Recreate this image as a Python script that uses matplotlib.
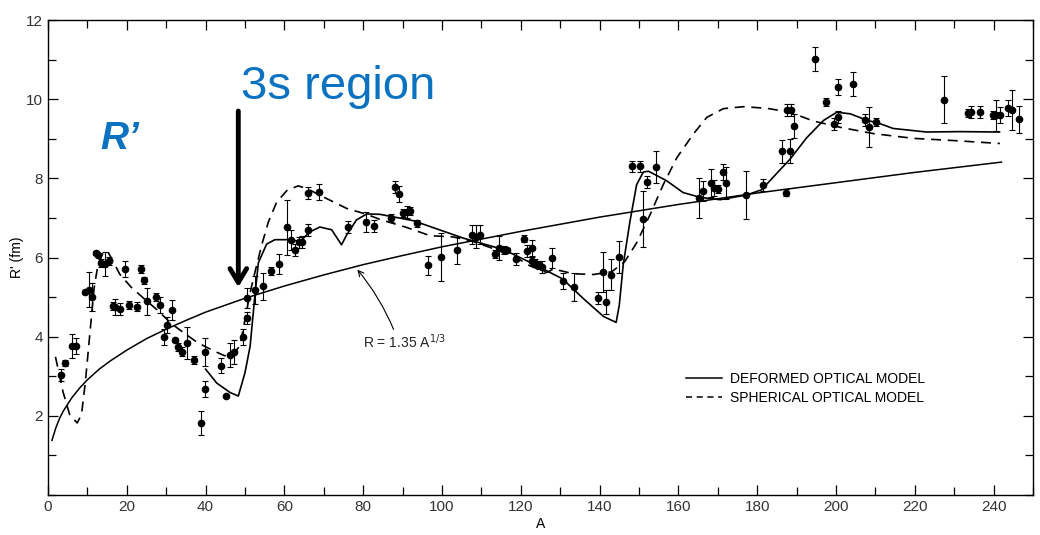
import numpy as np
import matplotlib
matplotlib.use("Agg")
import matplotlib.pyplot as plt
from matplotlib.ticker import MultipleLocator
from matplotlib.lines import Line2D

plt.rcParams['font.family'] = ['Liberation Sans', 'DejaVu Sans']

# measured points: mass number A, radius R' (fm), error
pt_A = [3.2, 4.4, 6.1, 7.1, 9.3, 10.3, 11.2, 12.3, 12.7, 13.5, 14.4, 15.5, 16.5, 17.1,
        18.4, 19.6, 20.5, 22.5, 23.5, 24.4, 25.2, 27.3, 28.4, 29.4, 30.3, 31.5, 32.2,
        33.0, 34.0, 35.2, 37.1, 38.9, 39.9, 39.9, 43.8, 45.3, 46.2, 47.1,
        49.4, 50.4, 50.4, 52.5, 54.5, 56.5, 58.7, 60.7, 61.8, 62.7, 63.7, 64.5,
        66.1, 68.9, 66.1, 76.1, 80.7, 82.8, 87.0, 88.1, 89.1, 90.2, 91.0, 92.0, 93.7,
        96.5, 99.7, 103.7, 107.7, 108.7, 109.6, 113.5, 114.5, 115.7, 116.4, 118.7,
        120.8, 121.7, 122.8, 122.8, 123.6, 124.5, 125.3, 127.8,
        130.6, 133.6, 139.7, 140.8, 141.5, 142.9, 144.9, 148.1, 150.3, 154.2, 152.1,
        150.9, 165.2, 166.2, 168.3, 169.1, 170.1, 171.2, 172.1, 177.2, 181.5,
        186.2, 188.2, 187.2, 189.3, 187.6, 188.5, 194.7, 197.4, 200.4, 204.4,
        199.5, 200.4, 207.4, 208.5, 210.1, 227.5, 233.6, 234.3, 236.5, 239.8,
        240.7, 241.6, 243.6, 244.6, 246.4]
pt_R = [3.03, 3.34, 3.77, 3.77, 5.14, 5.19, 5.01, 6.11, 6.06, 5.85, 5.83, 5.92, 4.77, 4.74,
        4.69, 5.70, 4.79, 4.76, 5.72, 5.42, 4.89, 5.01, 4.81, 4.00, 4.29, 4.67, 3.91,
        3.74, 3.62, 3.84, 3.41, 1.82, 3.61, 2.68, 3.27, 2.50, 3.53, 3.61,
        4.00, 4.48, 4.98, 5.18, 5.27, 5.65, 5.84, 6.76, 6.45, 6.18, 6.38, 6.39,
        7.64, 7.66, 6.70, 6.76, 6.90, 6.79, 6.99, 7.79, 7.60, 7.13, 7.16, 7.18, 6.86,
        5.80, 6.01, 6.18, 6.58, 6.53, 6.58, 6.10, 6.24, 6.18, 6.18, 5.97,
        6.48, 6.17, 6.23, 5.92, 5.85, 5.80, 5.75, 5.98,
        5.40, 5.25, 4.97, 5.64, 4.88, 5.57, 6.02, 8.30, 8.30, 8.29, 7.90,
        6.97, 7.50, 7.69, 7.88, 7.76, 7.72, 8.16, 7.89, 7.58, 7.84,
        8.68, 8.69, 7.64, 9.32, 9.73, 9.73, 11.01, 9.92, 10.30, 10.39,
        9.37, 9.56, 9.48, 9.30, 9.42, 9.99, 9.65, 9.67, 9.67, 9.61,
        9.59, 9.61, 9.78, 9.72, 9.49]
pt_err = [0.15, 0.08, 0.3, 0.2, 0.05, 0.45, 0.35, 0.05, 0.05, 0.1, 0.3, 0.1, 0.1, 0.2,
          0.15, 0.2, 0.1, 0.12, 0.1, 0.1, 0.35, 0.1, 0.2, 0.2, 0.2, 0.25, 0.05,
          0.1, 0.12, 0.4, 0.1, 0.3, 0.35, 0.2, 0.2, 0.0, 0.3, 0.3,
          0.2, 0.15, 0.25, 0.35, 0.35, 0.1, 0.25, 0.7, 0.25, 0.15, 0.15, 0.15,
          0.15, 0.2, 0.15, 0.15, 0.25, 0.15, 0.1, 0.15, 0.2, 0.1, 0.15, 0.1, 0.1,
          0.25, 0.6, 0.35, 0.25, 0.3, 0.25, 0.1, 0.3, 0.1, 0.05, 0.15,
          0.1, 0.15, 0.2, 0.1, 0.1, 0.1, 0.15, 0.25,
          0.2, 0.35, 0.15, 0.5, 0.3, 0.4, 0.4, 0.15, 0.15, 0.4, 0.15,
          0.7, 0.5, 0.25, 0.35, 0.2, 0.1, 0.2, 0.4, 0.6, 0.15,
          0.3, 0.3, 0.08, 0.3, 0.15, 0.15, 0.3, 0.1, 0.2, 0.3,
          0.15, 0.15, 0.15, 0.5, 0.1, 0.6, 0.1, 0.15, 0.15, 0.1,
          0.4, 0.2, 0.2, 0.5, 0.35]

# deformed optical model (solid)
def_A = [40, 42.8, 46.2, 48.3, 50, 51.3, 52.5, 53.4, 54.2, 55.5, 57.6, 60.6, 64, 66.5,
         69, 72, 74.5, 75.8, 78.3, 80.9, 84.3, 92.7, 105.4, 115.6, 122.3, 130.6, 135.9,
         141, 144.2, 145, 146, 147.7, 149.4, 151.1, 152.4, 157, 161.2, 165.5, 170.6,
         177.3, 181.1, 185, 188.3, 192.6, 196.8, 200.2, 203.6, 207.8, 211.2, 214.5,
         223, 231.5, 241.5]
def_R = [3.18, 2.83, 2.59, 2.50, 3.09, 3.76, 5.03, 5.87, 6.05, 6.34, 6.45, 6.45, 6.41, 6.65,
         6.77, 6.70, 6.32, 6.57, 6.95, 7.10, 7.09, 6.93, 6.49, 6.20, 5.88, 5.46, 4.96,
         4.51, 4.36, 4.80, 5.82, 6.91, 7.84, 8.16, 8.18, 7.94, 7.64, 7.52, 7.46,
         7.58, 7.71, 8.13, 8.48, 9.03, 9.46, 9.67, 9.63, 9.47, 9.38, 9.26,
         9.17, 9.18, 9.17]

# spherical optical model (dashed)
sph_A = [1.9, 3.8, 5.5, 7.4, 8.5, 9.5, 10.6, 11.7, 12.7, 14, 15.1, 16.5, 18.2, 21.1,
         24.5, 27.9, 31.3, 34.7, 38.1, 42.3, 44.8, 46.5, 48.7, 51.3, 52.5, 54.2, 55.9,
         58, 60.6, 63.5, 65.7, 70.7, 75.8, 80.9, 84.3, 91, 97, 102.9, 108, 118,
         122.3, 126.6, 128.3, 133.3, 138.4, 143.1, 146.4, 149.4, 152.8, 156.2, 159.6,
         163.8, 167.2, 171.4, 176.5, 182.4, 188.3, 194.2, 201, 209.5, 219.6, 230.6, 241.6]
sph_R = [3.49, 2.61, 2.03, 1.82, 2.03, 2.87, 4.05, 5.23, 5.83, 6.12, 6.16, 5.91, 5.58, 5.25,
         4.95, 4.66, 4.33, 4.08, 3.84, 3.63, 3.52, 3.52, 3.76, 5.11, 5.62, 6.30, 6.89,
         7.39, 7.69, 7.81, 7.74, 7.49, 7.24, 7.09, 6.96, 6.76, 6.55, 6.52, 6.40, 6.05,
         5.79, 5.62, 5.71, 5.59, 5.57, 5.64, 5.90, 6.37, 7.08, 7.85, 8.52,
         9.12, 9.54, 9.76, 9.81, 9.77, 9.67, 9.45, 9.29, 9.13, 9.01, 8.95, 8.88]

# R = 1.35 A^(1/3) line
ref_A = [1, 2, 3, 4, 6, 8, 10, 13, 16, 20, 25, 30, 35, 40, 50, 60, 70, 80, 90,
         100, 120, 140, 160, 180, 200, 220, 242]
ref_R = [1.38, 1.70, 1.95, 2.14, 2.45, 2.70, 2.91, 3.18, 3.40, 3.66, 3.95, 4.19,
         4.41, 4.62, 4.97, 5.28, 5.56, 5.82, 6.05, 6.27, 6.66, 7.02, 7.34, 7.63, 7.89,
         8.15, 8.41]

fig = plt.figure(figsize=(10.4, 5.35), dpi=100)
ax = fig.add_axes([48 / 1040, 40 / 535, 985 / 1040, 475 / 535])

ax.plot(ref_A, ref_R, color='black', lw=1.1)
ax.plot(def_A, def_R, color='black', lw=1.2)
ax.plot(sph_A, sph_R, color='black', lw=1.2, dashes=(6, 4))
ax.errorbar(pt_A, pt_R, yerr=pt_err, fmt='o', color='black', ms=4.5,
            elinewidth=0.8, capsize=2.2, capthick=0.8)

ax.set_xlim(0, 250)
ax.set_ylim(0, 12)
ax.xaxis.set_major_locator(MultipleLocator(20))
ax.xaxis.set_minor_locator(MultipleLocator(10))
ax.yaxis.set_major_locator(MultipleLocator(2))
ax.yaxis.set_minor_locator(MultipleLocator(1))
ax.tick_params(which='both', direction='in', top=True, right=True,
               labelsize=11, labelcolor='#333333', width=0.9)
ax.tick_params(which='major', length=7)
ax.tick_params(which='minor', length=6)
ax.set_yticks([2, 4, 6, 8, 10, 12])
for s in ax.spines.values():
    s.set_linewidth(1.0)

ax.set_xlabel('A', fontsize=10, labelpad=2)
ax.set_ylabel("R' (fm)", fontsize=10)
ax.yaxis.set_label_coords(-0.024, 0.5)

# legend
handles = [Line2D([], [], color='black', lw=1.1),
           Line2D([], [], color='black', lw=1.1, dashes=(4, 3))]
ax.legend(handles, ['DEFORMED OPTICAL MODEL', 'SPHERICAL OPTICAL MODEL'],
          loc='upper left', bbox_to_anchor=(0.635, 0.285), frameon=False,
          fontsize=10, handlelength=2.6, handletextpad=0.6, labelspacing=0.35)

# formula label with arrow
ax.annotate(r'R = 1.35 A$^{1/3}$', xy=(78.3, 5.72), xytext=(80, 3.72),
            fontsize=10, color='#222222',
            arrowprops=dict(arrowstyle='->', lw=0.8, color='black',
                            connectionstyle='arc3,rad=0.08',
                            shrinkA=0, shrinkB=1, relpos=(0.38, 1.0)))

# overlay annotations
ax.text(73.6, 10.3, '3s region', color='#0b72c1', fontsize=34, ha='center', va='center')
ax.text(13.2, 9.0, 'R’', color='#0b72c1', fontsize=28, fontweight='bold',
        style='italic', ha='left', va='center')
ax.annotate('', xy=(48.3, 5.25), xytext=(48.3, 9.7),
            arrowprops=dict(arrowstyle='->,head_length=1.0,head_width=0.6',
                            lw=3.5, color='black', shrinkA=0, shrinkB=0))

fig.savefig('out.png', dpi=100)
